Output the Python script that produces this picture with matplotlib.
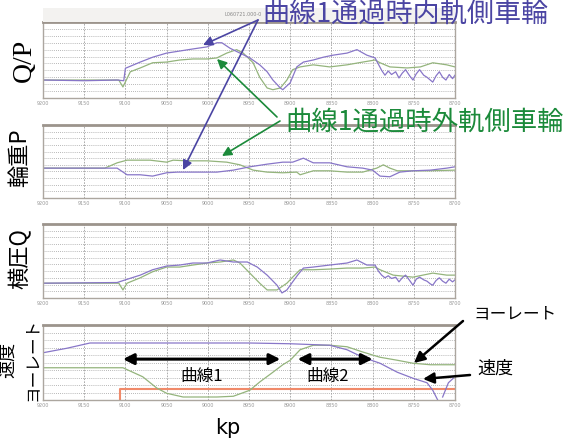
import matplotlib
matplotlib.use('Agg')
import matplotlib.pyplot as plt

plt.rcParams['font.family'] = ['Noto Sans CJK JP', 'DejaVu Sans']

kp_ticks = [9200, 9150, 9100, 9050, 9000, 8950, 8900, 8850, 8800, 8750, 8700]

# Q/P  (inner = purple, outer = green)
qp_in_kp = [9200, 9150, 9110, 9102, 9100, 9082, 9067, 9050, 9034, 9018, 9001, 8989, 8983, 8973,
            8961, 8949, 8937, 8928, 8921, 8912, 8909, 8900, 8892, 8884, 8872, 8860, 8848, 8831,
            8819, 8807, 8797, 8793, 8789, 8785, 8781, 8777, 8772, 8768, 8764, 8760, 8755, 8751,
            8747, 8743, 8738, 8734, 8730, 8727, 8723, 8719, 8715, 8711, 8707, 8703, 8700]
qp_in = [2.6, 2.5, 2.6, 2.5, 4.3, 5.2, 5.9, 6.5, 6.8, 7.1, 7.4, 8.0, 8.0, 7.2,
         6.5, 5.8, 4.8, 3.8, 2.6, 1.45, 1.2, 2.2, 4.5, 5.2, 5.5, 5.9, 6.2, 6.5,
         7.0, 6.2, 5.8, 4.9, 4.0, 3.3, 3.9, 3.4, 3.8, 2.9, 3.6, 4.1, 3.2, 2.6,
         3.5, 4.1, 3.3, 3.0, 2.6, 2.3, 3.2, 3.8, 3.0, 2.6, 3.4, 2.8, 3.3]
qp_out_kp = [9200, 9150, 9108, 9103, 9094, 9082, 9067, 9050, 9034, 9018, 9001, 8989, 8977, 8965,
             8957, 8945, 8937, 8928, 8921, 8912, 8904, 8897, 8888, 8872, 8852, 8831, 8812, 8797,
             8791, 8779, 8758, 8742, 8727, 8710, 8700]
qp_out = [2.6, 2.6, 2.6, 1.6, 3.8, 4.35, 5.1, 5.2, 5.5, 5.65, 5.65, 5.8, 6.5, 7.0,
          6.5, 5.1, 3.0, 1.45, 1.2, 1.45, 2.6, 4.1, 4.5, 4.8, 4.5, 4.8, 5.2, 5.5,
          5.1, 4.5, 4.35, 4.5, 5.1, 4.8, 4.5]

# 輪重P
p_in_kp = [9200, 9110, 9098, 9082, 9067, 9050, 9037, 9025, 9009, 8989, 8969, 8949, 8928, 8909,
           8897, 8884, 8872, 8852, 8831, 8812, 8800, 8791, 8779, 8767, 8751, 8730, 8710, 8700]
p_in = [4.5, 4.5, 3.5, 3.5, 3.3, 3.8, 3.9, 3.9, 3.9, 3.9, 4.2, 4.7, 5.1, 5.4,
        5.4, 6.0, 5.3, 5.3, 4.7, 4.5, 4.2, 3.3, 3.2, 3.9, 4.1, 4.2, 4.5, 4.7]
p_out_kp = [9200, 9125, 9110, 9098, 9070, 9050, 9042, 9025, 9001, 8977, 8961, 8945, 8928, 8909,
            8892, 8888, 8872, 8852, 8831, 8812, 8795, 8787, 8779, 8770, 8751, 8730, 8700]
p_out = [4.5, 4.5, 5.3, 5.7, 5.7, 5.4, 5.7, 5.6, 5.6, 5.4, 5.0, 4.2, 3.9, 3.8,
         3.9, 3.5, 4.1, 4.1, 3.9, 3.9, 4.5, 5.0, 4.5, 4.1, 4.1, 4.1, 4.2]

# 横圧Q
q_in_kp = [9200, 9110, 9100, 9082, 9067, 9050, 9034, 9018, 9001, 8985, 8969, 8952, 8940, 8928,
           8916, 8910, 8904, 8897, 8891, 8884, 8872, 8852, 8831, 8819, 8807, 8797, 8793, 8789,
           8785, 8781, 8777, 8772, 8768, 8764, 8760, 8755, 8751, 8747, 8743, 8738, 8734, 8730,
           8727, 8723, 8719, 8715, 8711, 8707, 8703, 8700]
q_in = [2.2, 2.3, 2.7, 3.4, 4.2, 4.75, 4.9, 5.2, 5.2, 5.65, 5.35, 5.35, 4.6, 3.4,
        1.9, 0.75, 1.2, 2.4, 3.4, 4.45, 4.6, 4.9, 5.2, 5.65, 4.9, 4.9, 4.0, 3.4,
        3.0, 3.3, 2.9, 3.1, 2.4, 3.0, 3.4, 2.6, 1.9, 2.8, 3.1, 2.7, 2.5, 2.1,
        1.9, 2.6, 3.0, 2.5, 2.2, 2.8, 2.4, 2.7]
q_out_kp = [9200, 9108, 9103, 9098, 9082, 9067, 9050, 9034, 9018, 9001, 8985, 8969, 8961, 8949,
            8937, 8928, 8916, 8904, 8897, 8888, 8872, 8852, 8831, 8812, 8797, 8791, 8775, 8751,
            8727, 8710, 8700]
q_out = [2.2, 2.2, 1.2, 2.2, 3.0, 3.9, 4.6, 4.6, 4.9, 5.2, 5.35, 5.65, 5.2, 3.7,
         2.2, 1.2, 1.2, 2.2, 3.1, 4.2, 4.2, 4.3, 4.45, 4.45, 4.6, 4.2, 3.4, 3.1,
         3.7, 3.4, 3.4]

# 速度 / ヨーレート
speed_kp = [9200, 9171, 9143, 9131, 9050, 8950, 8900, 8852, 8831, 8812, 8791, 8770, 8751, 8734,
            8727, 8721]
speed = [6.3, 6.9, 7.6, 7.6, 7.6, 7.6, 7.5, 7.3, 6.7, 5.7, 4.9, 3.7, 2.9, 2.3, 1.3, 0.0]
speed2_kp = [8715, 8708, 8702]
speed2 = [0.4, 2.3, 2.9]
yaw_kp = [9200, 9103, 9091, 9079, 9062, 9050, 9030, 9009, 8989, 8969, 8949, 8937, 8921, 8909,
          8900, 8888, 8872, 8852, 8831, 8812, 8791, 8770, 8751, 8730, 8700]
yaw = [4.3, 4.3, 3.7, 3.1, 1.6, 0.9, 0.4, 0.4, 0.4, 0.5, 1.3, 2.4, 3.7, 4.7,
       5.3, 6.7, 7.3, 7.3, 7.1, 6.4, 5.7, 5.3, 4.9, 4.7, 4.7]
flag_kp = [9107, 9107, 8700]
flag = [0.0, 1.5, 1.5]

purple = '#8876c8'
green = '#94b47c'
blue_txt = '#4b45a3'
green_txt = '#1b8a3a'

W, H = 564, 440
fig = plt.figure(figsize=(5.64, 4.4), dpi=100)

# panel boxes in image pixels: (top, bottom)
boxes = [(22, 98), (125, 198), (224, 298), (325, 400)]
x0, x1 = 43, 455
axes = []
for top, bot in boxes:
    ax = fig.add_axes([x0 / W, 1 - bot / H, (x1 - x0) / W, (bot - top) / H])
    ax.set_xlim(9200, 8700)
    ax.set_xticks(kp_ticks)
    ax.set_xticklabels([str(k) for k in kp_ticks], fontsize=3.5, color='#999999',
                       family='DejaVu Sans')
    ax.tick_params(length=0, pad=2, left=False, labelleft=False)
    ax.grid(axis='x', color='#a0a0a0', lw=0.6, ls=(0, (2, 1.5)))
    ax.grid(axis='y', color='#a0a0a0', lw=0.6, ls=(0, (1, 1.5)))
    for s in ax.spines.values():
        s.set_color('#aca69f')
        s.set_linewidth(1)
    ax.spines['top'].set_linewidth(2)
    ax.spines['top'].set_color('#9c948c')
    axes.append(ax)

for ax in axes[:3]:
    ax.set_ylim(0, 11)
    ax.set_yticks(range(12))
axes[3].set_ylim(0, 10)
axes[3].set_yticks(range(11))

axes[0].plot(qp_out_kp, qp_out, color=green, lw=0.9)
axes[0].plot(qp_in_kp, qp_in, color=purple, lw=0.9)
axes[1].plot(p_out_kp, p_out, color=green, lw=0.9)
axes[1].plot(p_in_kp, p_in, color=purple, lw=0.9)
axes[2].plot(q_out_kp, q_out, color=green, lw=0.9)
axes[2].plot(q_in_kp, q_in, color=purple, lw=0.9)
axes[3].plot(flag_kp, flag, color='#f08a6a', lw=1.5)
axes[3].plot(yaw_kp, yaw, color=green, lw=0.9)
axes[3].plot(speed_kp, speed, color=purple, lw=0.9)
axes[3].plot(speed2_kp, speed2, color=purple, lw=0.9)

# curve spans
ax4 = axes[3]
dbl = dict(arrowstyle='<|-|>', color='black', lw=2.2, mutation_scale=16, shrinkA=0, shrinkB=0)
ax4.annotate('', xy=(8912, 5.45), xytext=(9103, 5.45), arrowprops=dbl)
ax4.annotate('', xy=(8800, 5.45), xytext=(8891, 5.45), arrowprops=dbl)
ax4.text(9007, 3.2, '曲線1', fontsize=12, ha='center', va='center')
ax4.text(8854, 3.2, '曲線2', fontsize=12, ha='center', va='center')

# overlay for labels and arrows, in image pixels
ov = fig.add_axes([0, 0, 1, 1], zorder=10)
ov.set_xlim(0, W)
ov.set_ylim(H, 0)
ov.axis('off')

ov.add_patch(plt.Rectangle((x0, 8), x1 - x0, 14, color='#f3f2f0', lw=0))
ov.text(262, 15, 'L060721.000-0', fontsize=3.5, color='#888888', ha='right', va='center',
        family='DejaVu Sans')

ov.text(262, 15, '曲線1通過時内軌側車輪', fontsize=19.5, color=blue_txt, ha='left', va='center')
ov.text(285, 122, '曲線1通過時外軌側車輪', fontsize=19, color=green_txt, ha='left', va='center')

def arrow(x_from, y_from, x_to, y_to, color, lw=1.2, ms=14):
    ov.annotate('', xy=(x_to, y_to), xytext=(x_from, y_from),
                arrowprops=dict(arrowstyle='-|>', color=color, lw=lw, mutation_scale=ms,
                                shrinkA=0, shrinkB=0))

arrow(258, 20, 203, 45, blue_txt)
arrow(258, 20, 183, 170, blue_txt)
arrow(277, 117, 217, 59, green_txt)
arrow(280, 121, 222, 156, green_txt)
arrow(463, 321, 414, 363, 'black', lw=1.8, ms=16)
arrow(470, 375, 423, 379, 'black', lw=1.8, ms=16)

ov.text(515, 314, 'ヨーレート', fontsize=12, ha='center', va='center')
ov.text(495, 369, '速度', fontsize=13, ha='center', va='center')

ov.text(24, 60, 'Q/P', fontsize=20, rotation=90, ha='center', va='center', family='Liberation Serif')
ov.text(20, 158, '輪重P', fontsize=16, rotation=90, ha='center', va='center')
ov.text(20, 259, '横圧Q', fontsize=16, rotation=90, ha='center', va='center')
ov.text(8, 360, '速度', fontsize=13, rotation=90, ha='center', va='center')
ov.text(32, 359, 'ヨーレート', fontsize=12, rotation=90, ha='center', va='center')
ov.text(228, 428, 'kp', fontsize=15, ha='center', va='center', family='DejaVu Sans')

fig.savefig('out.png', dpi=100)
